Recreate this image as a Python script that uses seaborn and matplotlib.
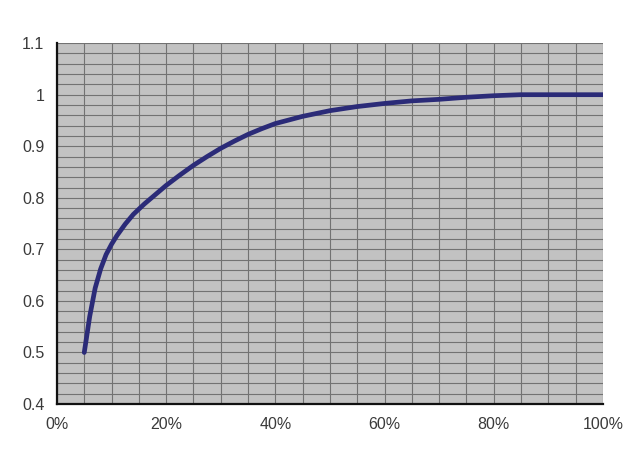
import matplotlib
matplotlib.use("Agg")
import matplotlib.pyplot as plt
import seaborn as sns
import pandas as pd
from matplotlib.ticker import MultipleLocator, FixedLocator

share = [0.05, 0.06, 0.07, 0.08, 0.09, 0.10, 0.11, 0.125, 0.14, 0.16, 0.18, 0.20,
         0.225, 0.25, 0.275, 0.30, 0.325, 0.35, 0.375, 0.40, 0.45, 0.50, 0.55,
         0.60, 0.65, 0.70, 0.75, 0.80, 0.85, 0.90, 0.95, 1.00]
value = [0.50, 0.57, 0.625, 0.662, 0.690, 0.710, 0.727, 0.749, 0.768, 0.788, 0.806, 0.824,
         0.844, 0.863, 0.880, 0.896, 0.910, 0.923, 0.934, 0.944, 0.958, 0.969, 0.977,
         0.983, 0.988, 0.991, 0.995, 0.998, 1.0, 1.0, 1.0, 1.0]
x_ticks = [0, 0.2, 0.4, 0.6, 0.8, 1.0]
x_labels = ["0%", "20%", "40%", "60%", "80%", "100%"]
y_ticks = [0.4, 0.5, 0.6, 0.7, 0.8, 0.9, 1.0, 1.1]
y_labels = ["0.4", "0.5", "0.6", "0.7", "0.8", "0.9", "1", "1.1"]

df = pd.DataFrame({"share": share, "value": value})

sns.set_style("white")
plt.rcParams['font.family'] = ['Liberation Sans', 'DejaVu Sans']

fig = plt.figure(figsize=(6.4, 4.54), dpi=100)
ax = fig.add_axes([0.089, 0.110, 0.853, 0.795])
ax.set_facecolor("#c2c2c2")

sns.lineplot(data=df, x="share", y="value", ax=ax, color="#2b2b78", linewidth=3.4,
             zorder=5, solid_joinstyle="round", solid_capstyle="round")

ax.set_xlim(0, 1.0)
ax.set_ylim(0.4, 1.1)
ax.xaxis.set_major_locator(FixedLocator(x_ticks))
ax.yaxis.set_major_locator(FixedLocator(y_ticks))
ax.set_xticklabels(x_labels)
ax.set_yticklabels(y_labels)
ax.xaxis.set_minor_locator(MultipleLocator(0.05))
ax.yaxis.set_minor_locator(MultipleLocator(0.02))
ax.grid(which="both", color="#727272", linewidth=0.8)
ax.set_axisbelow(True)
ax.tick_params(which="minor", length=0)
ax.tick_params(which="major", length=4, width=0.8, color="#999999",
               labelsize=11.5, labelcolor="#3a3a3a", direction="out")
ax.tick_params(axis="x", pad=5)
ax.tick_params(axis="y", pad=5)
ax.set_xlabel("")
ax.set_ylabel("")

for s in ["top", "right"]:
    ax.spines[s].set_visible(False)
for s in ["left", "bottom"]:
    ax.spines[s].set_color("#111111")
    ax.spines[s].set_linewidth(1.6)

fig.savefig("out.png", dpi=100)
